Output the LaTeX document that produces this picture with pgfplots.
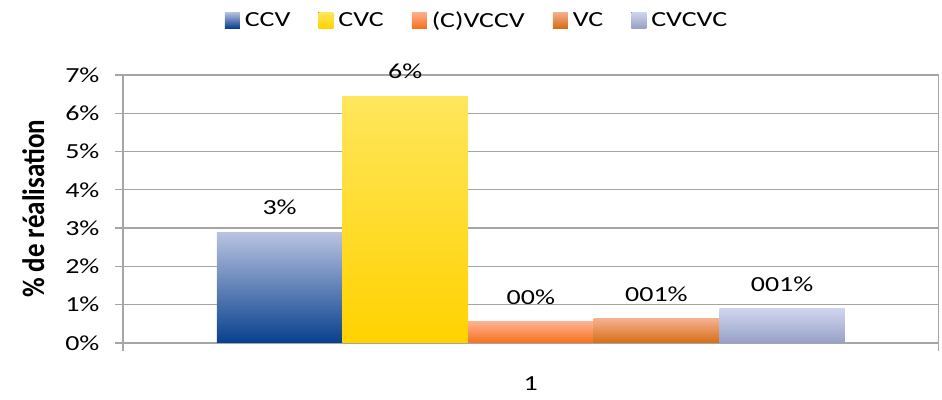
\documentclass[border=0pt]{standalone}
\usepackage{fontspec}
\setmainfont{Carlito}[FakeStretch=1.3]
\newfontfamily\ylabfont{Carlito}
\usepackage{pgfplots}
\pgfplotsset{compat=1.18}
\definecolor{ccvT}{HTML}{B9C2E0}
\definecolor{ccvB}{HTML}{08408E}
\definecolor{cvcT}{HTML}{FFE65C}
\definecolor{cvcB}{HTML}{FFD200}
\definecolor{vccvT}{HTML}{FFB08E}
\definecolor{vccvB}{HTML}{F5721E}
\definecolor{vcT}{HTML}{F5B08E}
\definecolor{vcB}{HTML}{D66E14}
\definecolor{cvcvcT}{HTML}{D0D5EE}
\definecolor{cvcvcB}{HTML}{97A1C6}
\definecolor{gridc}{HTML}{A5A5A5}
\begin{document}
\begin{tikzpicture}
\begin{axis}[
  at={(0,0)}, anchor=south west,
  scale only axis, width=816bp, height=268bp,
  font=\fontsize{21.5bp}{25bp}\selectfont,
  xmin=0.5, xmax=1.5, ymin=0, ymax=7,
  ybar=0pt, bar width=0.154,
  xtick={0.5,1.5}, xticklabels={},
  extra x ticks={1}, extra x tick labels={1},
  extra x tick style={major tick length=0pt, tick label style={yshift=-30bp}},
  ytick={0,1,...,7},
  yticklabel={\pgfmathprintnumber{\tick}\%},
  /pgf/number format/assume math mode=true,
  ymajorgrids, major grid style={gridc, line width=1.3bp},
  axis line style={gridc, line width=1.3bp},
  tick style={gridc, line width=1.3bp},
  tick align=outside, major tick length=8bp,
  xtick pos=bottom, ytick pos=left,
  yticklabel style={xshift=-12bp},
  ylabel={\ylabfont\fontsize{27bp}{30bp}\selectfont\bfseries\% de réalisation},
  ylabel style={at={(rel axis cs:-0.110,0.5)}, anchor=center, yscale=1.15},
  nodes near coords style={anchor=center, yshift=25bp, black},
  legend style={at={(rel axis cs:0.434,1.205)}, anchor=center, draw=none, fill=none,
    legend columns=5, /tikz/every even column/.style={column sep=26bp},
    font=\fontsize{21.5bp}{25bp}\selectfont, inner sep=0pt},
  legend cell align=left,
]
\addplot[draw=none, top color=ccvT, bottom color=ccvB, nodes near coords={3\%},
  legend image code/.code={\fill[top color=ccvT, bottom color=ccvB] (0bp,-8bp) rectangle (15bp,8bp); \path (18bp,0bp);}]
  coordinates {(1,2.88)};
\addplot[draw=none, top color=cvcT, bottom color=cvcB, nodes near coords={6\%},
  legend image code/.code={\fill[top color=cvcT, bottom color=cvcB] (0bp,-8bp) rectangle (15bp,8bp); \path (18bp,0bp);}]
  coordinates {(1,6.45)};
\addplot[draw=none, top color=vccvT, bottom color=vccvB, nodes near coords={00\%},
  legend image code/.code={\fill[top color=vccvT, bottom color=vccvB] (0bp,-8bp) rectangle (15bp,8bp); \path (18bp,0bp);}]
  coordinates {(1,0.55)};
\addplot[draw=none, top color=vcT, bottom color=vcB, nodes near coords={001\%},
  legend image code/.code={\fill[top color=vcT, bottom color=vcB] (0bp,-8bp) rectangle (15bp,8bp); \path (18bp,0bp);}]
  coordinates {(1,0.63)};
\addplot[draw=none, top color=cvcvcT, bottom color=cvcvcB, nodes near coords={001\%},
  legend image code/.code={\fill[top color=cvcvcT, bottom color=cvcvcB] (0bp,-8bp) rectangle (15bp,8bp); \path (18bp,0bp);}]
  coordinates {(1,0.89)};
\legend{CCV, CVC, (C)VCCV, VC, CVCVC}
\end{axis}
\useasboundingbox (-123bp,-57bp) rectangle (819bp,343bp);
\end{tikzpicture}
\end{document}
